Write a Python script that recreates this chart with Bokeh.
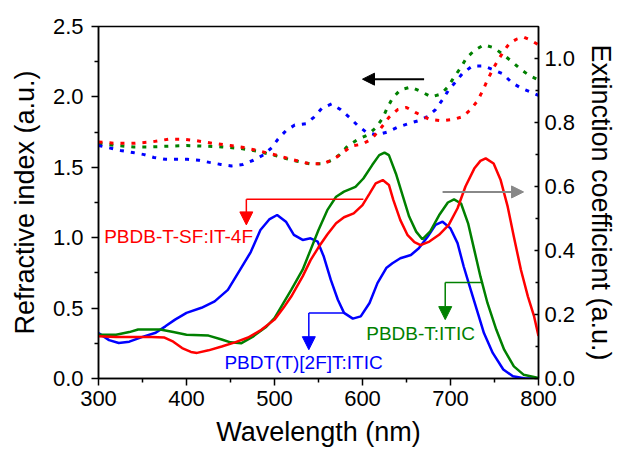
from bokeh.plotting import figure
from bokeh.models import Range1d, LinearAxis, Arrow, NormalHead, PrintfTickFormatter, FixedTicker
from bokeh.core.properties import value
from bokeh.embed import file_html
from bokeh.resources import INLINE

FONT = "Liberation Sans"

# ---------------- refractive index (left axis, dotted) ----------------
wl_n_red = [300, 320, 340, 360, 380, 395, 410, 430, 450, 465, 480, 500, 520, 540, 555, 565, 575, 587, 600, 610, 620, 630, 640, 650, 660, 676, 690, 703, 714, 723, 731, 737, 742, 748, 754, 760, 767, 775, 783, 792, 800]
n_red = [1.68, 1.67, 1.67, 1.68, 1.70, 1.70, 1.69, 1.67, 1.655, 1.64, 1.62, 1.59, 1.555, 1.525, 1.525, 1.55, 1.59, 1.65, 1.665, 1.70, 1.77, 1.855, 1.91, 1.925, 1.89, 1.84, 1.83, 1.84, 1.86, 1.91, 1.975, 2.05, 2.12, 2.195, 2.26, 2.32, 2.38, 2.41, 2.425, 2.40, 2.37]

wl_n_green = [300, 320, 340, 360, 380, 400, 420, 440, 460, 480, 500, 520, 540, 555, 565, 574, 583, 595, 606, 615, 623, 628, 634, 643, 655, 666, 678, 689, 697, 704, 712, 718, 727, 738, 749, 760, 770, 780, 790, 800]
n_green = [1.67, 1.655, 1.645, 1.645, 1.65, 1.655, 1.65, 1.645, 1.635, 1.615, 1.585, 1.55, 1.525, 1.525, 1.55, 1.59, 1.65, 1.70, 1.73, 1.78, 1.85, 1.92, 1.99, 2.05, 2.07, 2.04, 2.00, 2.02, 2.07, 2.14, 2.21, 2.275, 2.33, 2.37, 2.35, 2.30, 2.25, 2.195, 2.15, 2.12]

wl_n_blue = [300, 325, 339, 352, 363, 376, 389, 401, 414, 426, 439, 451, 464, 476, 488, 497, 504, 513, 523, 536, 545, 554, 565, 575, 585, 594, 604, 616, 628, 640, 652, 663, 674, 683, 691, 698, 705, 714, 725, 737, 748, 759, 770, 781, 793, 800]
n_blue = [1.655, 1.62, 1.605, 1.59, 1.57, 1.557, 1.557, 1.557, 1.55, 1.535, 1.52, 1.51, 1.52, 1.55, 1.59, 1.64, 1.70, 1.76, 1.80, 1.81, 1.857, 1.92, 1.95, 1.91, 1.855, 1.80, 1.75, 1.73, 1.75, 1.785, 1.81, 1.83, 1.86, 1.91, 1.98, 2.05, 2.10, 2.17, 2.22, 2.22, 2.195, 2.165, 2.10, 2.06, 2.03, 2.01]

# ---------------- extinction coefficient (right axis, solid) ----------------
wl_k_red = [300, 320, 340, 360, 375, 385, 395, 405, 412, 425, 440, 455, 470, 485, 500, 510, 519, 532, 541, 550, 560, 570, 579, 590, 600, 608, 615, 623, 630, 635, 643, 651, 659, 666, 676, 687, 698, 708, 717, 727, 734, 740, 749, 757, 765, 772, 780, 788, 795, 800]
k_red = [0.132, 0.13, 0.13, 0.13, 0.128, 0.115, 0.095, 0.083, 0.08, 0.088, 0.10, 0.113, 0.128, 0.152, 0.184, 0.22, 0.256, 0.319, 0.37, 0.41, 0.45, 0.485, 0.504, 0.516, 0.542, 0.578, 0.61, 0.62, 0.605, 0.558, 0.495, 0.449, 0.426, 0.417, 0.428, 0.449, 0.48, 0.532, 0.60, 0.656, 0.68, 0.688, 0.672, 0.62, 0.537, 0.443, 0.34, 0.256, 0.194, 0.133]

wl_k_green = [300, 320, 335, 345, 370, 385, 400, 425, 440, 450, 462, 475, 490, 500, 519, 532, 541, 550, 560, 570, 579, 592, 601, 611, 619, 625, 630, 638, 646, 653, 661, 668, 677, 687, 697, 704, 712, 720, 727, 734, 742, 752, 761, 772, 783, 800]
k_green = [0.137, 0.137, 0.145, 0.153, 0.153, 0.145, 0.137, 0.134, 0.122, 0.113, 0.11, 0.13, 0.16, 0.189, 0.277, 0.34, 0.402, 0.464, 0.526, 0.568, 0.584, 0.599, 0.625, 0.667, 0.698, 0.706, 0.698, 0.64, 0.568, 0.506, 0.459, 0.435, 0.46, 0.51, 0.55, 0.56, 0.547, 0.485, 0.402, 0.319, 0.236, 0.153, 0.09, 0.038, 0.012, 0.002]

wl_k_blue = [300, 312, 323, 335, 350, 365, 376, 387, 400, 417, 432, 447, 462, 473, 484, 494, 503, 513, 522, 532, 541, 549, 556, 564, 572, 579, 589, 598, 608, 617, 627, 634, 643, 655, 664, 674, 683, 691, 700, 708, 715, 723, 731, 738, 748, 760, 771, 785, 800]
k_blue = [0.142, 0.12, 0.111, 0.115, 0.13, 0.143, 0.163, 0.184, 0.205, 0.221, 0.241, 0.277, 0.345, 0.395, 0.464, 0.497, 0.511, 0.49, 0.449, 0.433, 0.438, 0.428, 0.381, 0.308, 0.246, 0.205, 0.187, 0.194, 0.236, 0.298, 0.345, 0.36, 0.376, 0.386, 0.407, 0.443, 0.48, 0.49, 0.469, 0.423, 0.35, 0.277, 0.205, 0.142, 0.08, 0.028, 0.007, 0.0, 0.0]

# ---------------- labels and annotation anchors ----------------
labels = ["PBDB-T-SF:IT-4F", "PBDT(T)[2F]T:ITIC", "PBDB-T:ITIC"]
label_x = [391, 533, 666]
label_k = [0.443, 0.05, 0.14]
label_colors = ["#ff0000", "#0000ff", "#008000"]
# leader: horizontal segment (x0 -> x1 at k0), then arrow down to k1 at x0
lead_x0 = [468, 539, 694]
lead_x1 = [601, 579, 737]
lead_k0 = [0.56, 0.205, 0.30]
lead_k1 = [0.48, 0.09, 0.184]
# axis-pointing arrows
n_arrow = dict(x0=670, x1=600, y=2.126)
k_arrow = dict(x0=691, x1=783, y=0.583)

p = figure(width=619, height=449, output_backend="svg", toolbar_location=None,
           x_range=Range1d(300, 800), y_range=Range1d(0, 2.5),
           min_border_left=98, min_border_right=80, min_border_top=26, min_border_bottom=71)
p.extra_y_ranges = {"k": Range1d(0, 1.1)}
p.grid.visible = False
p.outline_line_color = "black"
p.outline_line_width = 1.5
p.background_fill_color = "white"
p.border_fill_color = "white"

def style_axis(ax, tin, tout):
    ax.axis_line_width = 1.5
    ax.axis_line_color = "black"
    ax.major_tick_line_width = 1.5
    ax.minor_tick_line_width = 1.5
    ax.major_tick_in = tin
    ax.major_tick_out = tout
    ax.minor_tick_in = min(tin, 3)
    ax.minor_tick_out = 4 if tout else 0
    ax.major_label_text_font = FONT
    ax.major_label_text_font_size = "22px"
    ax.major_label_text_color = "black"
    ax.axis_label_text_font = FONT
    ax.axis_label_text_font_style = "normal"
    ax.axis_label_text_color = "black"

xa = p.xaxis[0]
xa.ticker = FixedTicker(ticks=[300, 400, 500, 600, 700, 800], minor_ticks=[350, 450, 550, 650, 750])
xa.axis_label = "Wavelength (nm)"
style_axis(xa, 0, 7)
xa.axis_label_text_font_size = "27px"
xa.major_label_standoff = 5
xa.axis_label_standoff = 8

ya = p.yaxis[0]
ya.ticker = FixedTicker(ticks=[0, 0.5, 1.0, 1.5, 2.0, 2.5], minor_ticks=[0.25, 0.75, 1.25, 1.75, 2.25])
ya.formatter = PrintfTickFormatter(format="%.1f")
ya.axis_label = "Refractive index (a.u.)"
style_axis(ya, 0, 7)
ya.axis_label_text_font_size = "27px"
ya.major_label_standoff = 8
ya.axis_label_standoff = 10

ra = LinearAxis(y_range_name="k")
ra.ticker = FixedTicker(ticks=[0, 0.2, 0.4, 0.6, 0.8, 1.0], minor_ticks=[0.1, 0.3, 0.5, 0.7, 0.9])
ra.formatter = PrintfTickFormatter(format="%.1f")
ra.axis_label = "Extinction coefficient (a.u.)"
style_axis(ra, 4, 0)
ra.axis_label_text_font_size = "27px"
ra.major_label_standoff = 6
ra.axis_label_standoff = 8
p.add_layout(ra, "right")

# dotted refractive index
for xs, ys, c in [(wl_n_green, n_green, "#008000"), (wl_n_blue, n_blue, "#0000ff"), (wl_n_red, n_red, "#ff0000")]:
    p.line(xs, ys, line_color=c, line_width=3, line_dash="4 7")

# solid extinction
for xs, ys, c in [(wl_k_blue, k_blue, "#0000ff"), (wl_k_green, k_green, "#008000"), (wl_k_red, k_red, "#ff0000")]:
    p.line(xs, ys, line_color=c, line_width=2.5, y_range_name="k")

# leaders
for i in range(3):
    c = label_colors[i]
    p.segment(x0=[lead_x0[i]], y0=[lead_k0[i]], x1=[lead_x1[i]], y1=[lead_k0[i]],
              line_color=c, line_width=1.5, y_range_name="k")
    p.add_layout(Arrow(end=NormalHead(size=13, fill_color=c, line_color=c, line_width=1),
                       x_start=lead_x0[i], y_start=lead_k0[i], x_end=lead_x0[i], y_end=lead_k1[i],
                       line_color=c, line_width=1.5, y_range_name="k"))

p.text(x=label_x, y=label_k, text=labels, text_color=label_colors, text_font=value(FONT),
       text_font_size="19px", text_align="center", text_baseline="middle", y_range_name="k")

p.add_layout(Arrow(end=NormalHead(size=12, fill_color="black", line_color="black", line_width=1),
                   x_start=n_arrow["x0"], y_start=n_arrow["y"], x_end=n_arrow["x1"], y_end=n_arrow["y"],
                   line_color="black", line_width=2))
p.add_layout(Arrow(end=NormalHead(size=12, fill_color="#888888", line_color="#888888", line_width=1),
                   x_start=k_arrow["x0"], y_start=k_arrow["y"], x_end=k_arrow["x1"], y_end=k_arrow["y"],
                   line_color="#888888", line_width=2, y_range_name="k"))

open("out.html", "w").write(file_html(p, INLINE))
